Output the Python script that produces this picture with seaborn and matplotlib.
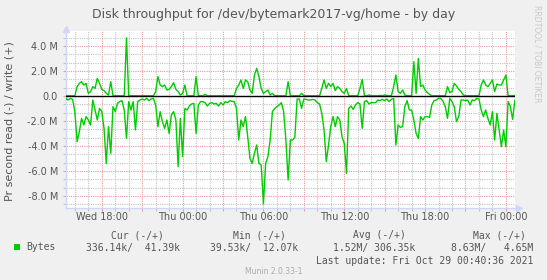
import numpy as np
import pandas as pd
import matplotlib
matplotlib.use("Agg")
import matplotlib.pyplot as plt
import matplotlib.dates as mdates
from matplotlib.ticker import MultipleLocator, FuncFormatter
from matplotlib.patches import Rectangle
import seaborn as sns

# ---------------- data (MB per second, 10-minute samples) ----------------
start_time = "2021-10-27 15:20"
n_samples = 201
times = pd.date_range(start_time, periods=n_samples, freq="10min")

read_mb = [
    0.19, 0.32, 0.19, 0.27, 1.25, 3.65, 2.85, 1.79, 2.32, 1.65,
    1.92, 2.32, 0.32, 1.12, 1.92, 0.99, 1.25, 2.59, 5.39, 2.45,
    4.59, 0.85, 1.25, 0.59, 0.45, 0.37, 1.12, 3.39, 0.45, 1.12,
    0.45, 2.72, 0.45, 0.32, 0.24, 0.32, 0.19, 0.37, 0.24, 0.19,
    0.72, 2.45, 1.25, 2.05, 2.59, 1.92, 2.99, 1.52, 1.25, 1.92,
    5.65, 1.79, 4.85, 0.99, 1.12, 0.80, 0.64, 0.59, 2.99, 0.72,
    0.45, 0.45, 0.53, 0.80, 0.59, 0.53, 0.64, 0.59, 0.80, 0.53,
    0.72, 0.45, 0.53, 0.37, 0.43, 0.45, 0.99, 3.52, 1.92, 2.45,
    1.65, 3.25, 4.99, 5.39, 4.59, 3.92, 5.39, 5.52, 8.63, 5.39,
    4.85, 3.52, 1.25, 0.99, 0.85, 0.72, 0.53, 1.25, 3.52, 6.72,
    3.52, 3.52, 3.31, 0.24, 0.24, 0.99, 0.24, 0.27, 0.32, 0.32,
    0.27, 0.32, 0.53, 0.64, 1.39, 2.72, 5.25, 3.92, 2.45, 1.65,
    2.45, 1.65, 1.92, 3.25, 3.79, 6.19, 0.99, 0.80, 1.07, 0.72,
    0.53, 0.64, 2.59, 0.45, 0.37, 0.64, 0.53, 0.53, 0.53, 0.32,
    0.37, 0.27, 0.37, 0.24, 0.45, 0.27, 0.19, 3.92, 2.32, 2.51,
    2.45, 0.85, 0.37, 1.12, 1.12, 1.92, 2.99, 3.39, 1.65, 1.92,
    1.65, 1.65, 1.71, 0.72, 0.37, 0.32, 0.19, 0.19, 0.43, 0.85,
    1.79, 0.19, 0.45, 0.85, 2.05, 1.65, 0.32, 0.32, 0.37, 0.32,
    0.72, 0.32, 0.37, 0.19, 0.24, 1.12, 1.65, 1.12, 1.79, 2.32,
    1.25, 3.52, 1.39, 2.72, 4.05, 2.72, 4.05, 0.45, 0.85, 1.87,
    0.34,
]

write_mb = [
    0.02, 0.02, 0.02, 0.02, 0.02, 0.75, 1.01, 1.15, 0.88, 1.01,
    0.21, 0.35, 0.75, 0.61, 1.41, 1.01, 0.53, 0.43, 0.21, 0.08,
    1.15, 0.02, 0.02, 0.02, 0.02, 0.02, 0.02, 4.65, 0.02, 0.02,
    0.02, 0.02, 0.02, 0.02, 0.02, 0.02, 0.02, 0.02, 0.02, 0.02,
    0.35, 1.55, 0.88, 0.75, 0.88, 0.48, 0.53, 0.75, 1.07, 0.53,
    0.35, 0.08, 0.21, 0.88, 0.02, 0.02, 0.02, 0.02, 1.55, 0.02,
    0.02, 0.02, 0.13, 0.02, 0.02, 0.02, 0.02, 0.02, 0.02, 0.02,
    0.02, 0.02, 0.02, 0.02, 0.02, 0.02, 0.61, 0.88, 1.28, 0.61,
    1.28, 1.15, 0.48, 0.21, 1.68, 2.21, 1.55, 0.61, 0.21, 0.35,
    0.48, 0.08, 0.21, 0.02, 0.02, 0.02, 0.02, 0.02, 0.02, 1.15,
    0.02, 0.02, 0.02, 0.02, 0.02, 0.21, 0.02, 0.02, 0.02, 0.02,
    0.02, 0.02, 0.02, 0.02, 0.61, 1.28, 0.61, 1.01, 0.75, 1.01,
    0.43, 0.75, 0.61, 0.35, 0.21, 0.61, 0.02, 0.02, 0.02, 0.02,
    0.02, 0.61, 1.33, 0.02, 0.02, 0.08, 0.02, 0.02, 0.02, 0.02,
    0.05, 0.02, 0.08, 0.05, 0.02, 0.02, 0.75, 1.68, 0.35, 0.21,
    0.48, 0.08, 0.02, 0.02, 0.02, 2.75, 0.21, 3.01, 0.75, 0.88,
    0.48, 0.27, 0.13, 0.02, 0.02, 0.02, 0.02, 0.02, 0.02, 0.02,
    0.75, 0.27, 0.35, 1.01, 0.80, 0.53, 0.35, 0.08, 0.02, 0.02,
    0.02, 0.02, 0.02, 0.02, 0.02, 0.88, 1.28, 0.88, 0.75, 1.01,
    1.28, 0.35, 0.96, 0.88, 0.88, 1.28, 1.68, 0.02, 0.02, 0.02,
    0.04,
]

title = "Disk throughput for /dev/bytemark2017-vg/home - by day"
ylabel = "Pr second read (-) / write (+)"
legend_headers = ["Cur (-/+)", "Min (-/+)", "Avg (-/+)", "Max (-/+)"]
legend_values = ["336.14k/  41.39k", "39.53k/  12.07k", "1.52M/ 306.35k", "8.63M/   4.65M"]
series_name = "Bytes"
last_update = "Last update: Fri Oct 29 00:40:36 2021"
watermark = "Munin 2.0.33-1"
side_text = "RRDTOOL / TOBI OETIKER"
x_start = pd.Timestamp("2021-10-27 15:20:36")
x_end = pd.Timestamp("2021-10-29 00:40:36")

df = pd.DataFrame({"time": times, "write": write_mb, "read": read_mb})
df["read_neg"] = -df["read"]

# ---------------- figure ----------------
W, H = 547, 280
TXT = "#555555"
GREEN = "#00CC00"
AXC = "#CFD6F8"

fig = plt.figure(figsize=(W / 100, H / 100), dpi=100)
fig.patch.set_facecolor("#F0F0F0")

L, R, T, B = 66, 515, 31, 208
ax = fig.add_axes([L / W, 1 - B / H, (R - L) / W, (B - T) / H])
ax.set_facecolor("white")

sns.lineplot(data=df, x="time", y="write", ax=ax, color=GREEN, linewidth=1.0,
             estimator=None, legend=False, zorder=3)
sns.lineplot(data=df, x="time", y="read_neg", ax=ax, color=GREEN, linewidth=1.0,
             estimator=None, legend=False, zorder=3)
ax.axhline(0, color="black", linewidth=1.0, zorder=4)

ax.set_xlim(x_start, x_end)
ax.set_ylim(-8.96, 5.2)

# grid
ax.xaxis.set_major_locator(mdates.HourLocator(byhour=range(0, 24, 3)))
ax.xaxis.set_minor_locator(mdates.HourLocator())
def xfmt(v, pos):
    d = mdates.num2date(v)
    return d.strftime("%a %H:%M") if d.hour % 6 == 0 else ""
ax.xaxis.set_major_formatter(FuncFormatter(xfmt))
ax.yaxis.set_major_locator(MultipleLocator(2))
ax.yaxis.set_minor_locator(MultipleLocator(2 / 3))
ax.yaxis.set_major_formatter(FuncFormatter(lambda v, p: "0.0" if abs(v) < 1e-9 else f"{v:.1f} M"))

ax.set_axisbelow(True)
ax.grid(which="major", color="#EE9A9A", linestyle=(0, (1, 1)), linewidth=0.8)
ax.grid(which="minor", color="#C4C4C4", linestyle=(0, (1, 1)), linewidth=0.8)

for s in ["top", "right"]:
    ax.spines[s].set_visible(False)
for s in ["left", "bottom"]:
    ax.spines[s].set_color(AXC)
    ax.spines[s].set_linewidth(1.0)

ax.tick_params(axis="both", which="major", labelsize=7, labelcolor=TXT, length=2, width=0.8)
ax.tick_params(axis="x", which="major", colors="#EE9A9A", labelcolor=TXT, pad=1)
ax.tick_params(axis="y", which="major", colors="#EE9A9A", labelcolor=TXT, pad=3.8)
ax.tick_params(axis="both", which="minor", length=2, width=0.8, colors="#C4C4C4")
ax.set_xlabel("")
ax.set_ylabel("")

# axis arrows
ax.plot([0], [1.0 + 2 / (B - T)], marker="^", markersize=4, color=AXC,
        transform=ax.transAxes, clip_on=False)
ax.plot([1.0 + 4 / (R - L)], [0], marker=">", markersize=4, color=AXC,
        transform=ax.transAxes, clip_on=False)

def fx(px):
    return px / W

def fy(py):
    return 1 - py / H

fig.text(0.5, fy(14.6), title, ha="center", va="center", fontsize=9, color=TXT)
fig.text(fx(10), fy(121), ylabel, ha="center", va="center", rotation=90, fontsize=8, color=TXT)
fig.text(fx(537), fy(5), side_text, ha="center", va="top", rotation=270, fontsize=5.5, color="#C8C8C8")

mono = "DejaVu Sans Mono"
hdr_right = [164, 285.4, 405.4, 526]
val_right = [179.7, 298.3, 415.1, 533]
for h, xr in zip(legend_headers, hdr_right):
    fig.text(fx(xr), fy(235), h, ha="right", va="center", fontsize=7, family=mono, color=TXT)
for v, xr in zip(legend_values, val_right):
    fig.text(fx(xr), fy(247.5), v, ha="right", va="center", fontsize=7, family=mono, color=TXT)
fig.text(fx(26.5), fy(247.5), series_name, ha="left", va="center", fontsize=7, family=mono, color=TXT)
fig.patches.append(Rectangle((fx(14), fy(250)), 6 / W, 6 / H, transform=fig.transFigure,
                             facecolor=GREEN, edgecolor="none"))
fig.text(fx(533), fy(260.5), last_update, ha="right", va="center", fontsize=7, family=mono, color=TXT)
fig.text(0.5, fy(272), watermark, ha="center", va="center", fontsize=5.5, color="#AAAAAA")

fig.savefig("out.png", dpi=100, facecolor=fig.get_facecolor())
